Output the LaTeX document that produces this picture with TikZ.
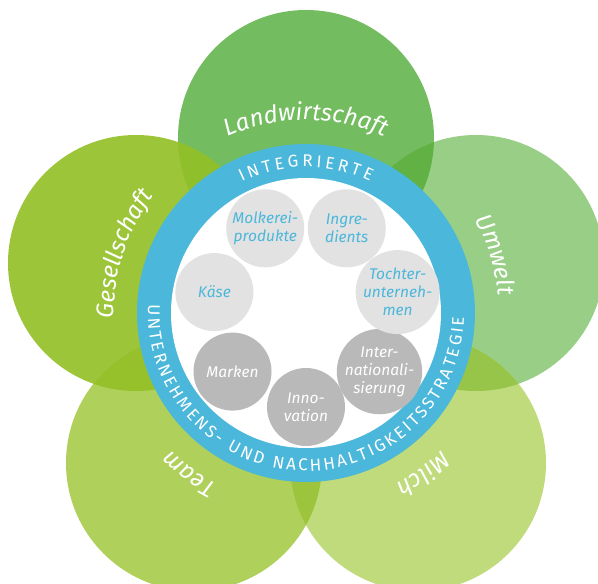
\documentclass[tikz,border=0pt]{standalone}
\usepackage{fontspec}
\setmainfont{Fira Sans}
\usetikzlibrary{decorations.text}
\definecolor{cTop}{RGB}{115,188,95}
\definecolor{cLeft}{RGB}{156,197,58}
\definecolor{cRight}{RGB}{152,206,134}
\definecolor{cTeam}{RGB}{175,208,91}
\definecolor{cMilch}{RGB}{191,219,123}
\definecolor{oTL}{RGB}{143,191,43}
\definecolor{oTR}{RGB}{98,177,69}
\definecolor{oLTeam}{RGB}{150,193,42}
\definecolor{oRMilch}{RGB}{150,197,73}
\definecolor{oTM}{RGB}{156,196,60}
\definecolor{cRing}{RGB}{75,183,218}
\definecolor{cLight}{RGB}{226,226,226}
\definecolor{cDark}{RGB}{185,185,185}
\newcommand\lblfont{\fontsize{24}{28}\selectfont\itshape\color{white}}
\newcommand\ringfont{\fontsize{17}{20}\selectfont\color{white}}
\tikzset{
  lightc/.style={circle, fill=cLight, minimum size=78pt, inner sep=0pt, align=center,
    text=cRing, font=\fontsize{15.5}{18}\selectfont\itshape},
  darkc/.style={circle, fill=cDark, minimum size=78pt, inner sep=0pt, align=center,
    text=white, font=\fontsize{15.5}{18}\selectfont\itshape},
}
\begin{document}
\begin{tikzpicture}[x=1pt,y=1pt]
\useasboundingbox (0,0) rectangle (598,584);
\coordinate (C) at (306,271);
\coordinate (T) at (306,446);
\coordinate (L) at (136,321);
\coordinate (R) at (476,321);
\coordinate (B1) at (194,121);
\coordinate (B2) at (418,121);
% petals
\fill[cTop] (T) circle[radius=128];
\fill[cLeft] (L) circle[radius=128];
\fill[cRight] (R) circle[radius=128];
\fill[cTeam] (B1) circle[radius=128];
\fill[cMilch] (B2) circle[radius=128];
% overlaps
\begin{scope}\clip (T) circle[radius=128]; \fill[oTL] (L) circle[radius=128];\end{scope}
\begin{scope}\clip (T) circle[radius=128]; \fill[oTR] (R) circle[radius=128];\end{scope}
\begin{scope}\clip (L) circle[radius=128]; \fill[oLTeam] (B1) circle[radius=128];\end{scope}
\begin{scope}\clip (R) circle[radius=128]; \fill[oRMilch] (B2) circle[radius=128];\end{scope}
\begin{scope}\clip (B1) circle[radius=128]; \fill[oTM] (B2) circle[radius=128];\end{scope}
% ring
\fill[cRing] (C) circle[radius=169];
\fill[white] (C) circle[radius=135];
% petal labels
\path[decorate, decoration={text along path, text={|\lblfont|Landwirtschaft}, text align=center}]
  ([shift={(125:193)}]C) arc[start angle=125, end angle=55, radius=193];
\path[decorate, decoration={text along path, text={|\lblfont|Gesellschaft}, text align=center}]
  ([shift={(197:192)}]C) arc[start angle=197, end angle=127, radius=192];
\path[decorate, decoration={text along path, text={|\lblfont|Umwelt}, text align=center}]
  ([shift={(52:193)}]C) arc[start angle=52, end angle=-18, radius=193];
\path[decorate, decoration={text along path, text={|\lblfont|Milch}, text align=center}]
  ([shift={(-19:193)}]C) arc[start angle=-19, end angle=-89, radius=193];
\path[decorate, decoration={text along path, text={|\lblfont|Team}, text align=center}]
  ([shift={(-91:193)}]C) arc[start angle=-91, end angle=-161, radius=193];
% ring text
\path[decorate, decoration={text along path, text={|\ringfont|INTEGRIERTE}, text align=fit to path}]
  ([shift={(116:146)}]C) arc[start angle=116, end angle=64, radius=146];
\path[decorate, decoration={text along path, text={|\ringfont|UNTERNEHMENS- UND NACHHALTIGKEITSSTRATEGIE}, text align=fit to path}]
  ([shift={(177:158)}]C) arc[start angle=177, end angle=358.5, radius=158];
% inner circles
\node[darkc]  (innov) at ([shift={(-90:94)}]C) {Inno-\\vation};
\node[darkc]  (intl)  at ([shift={(-38.57:94)}]C) {Inter-\\nationali-\\sierung};
\node[lightc] (toch)  at ([shift={(12.86:94)}]C) {Tochter-\\unterneh-\\men};
\node[lightc] (ingr)  at ([shift={(64.29:94)}]C) {Ingre-\\dients};
\node[lightc] (molk)  at ([shift={(115.71:94)}]C) {Molkerei-\\produkte};
\node[lightc] (kaese) at ([shift={(167.14:94)}]C) {Käse};
\node[darkc]  (mark)  at ([shift={(218.57:94)}]C) {Marken};
\end{tikzpicture}
\end{document}
